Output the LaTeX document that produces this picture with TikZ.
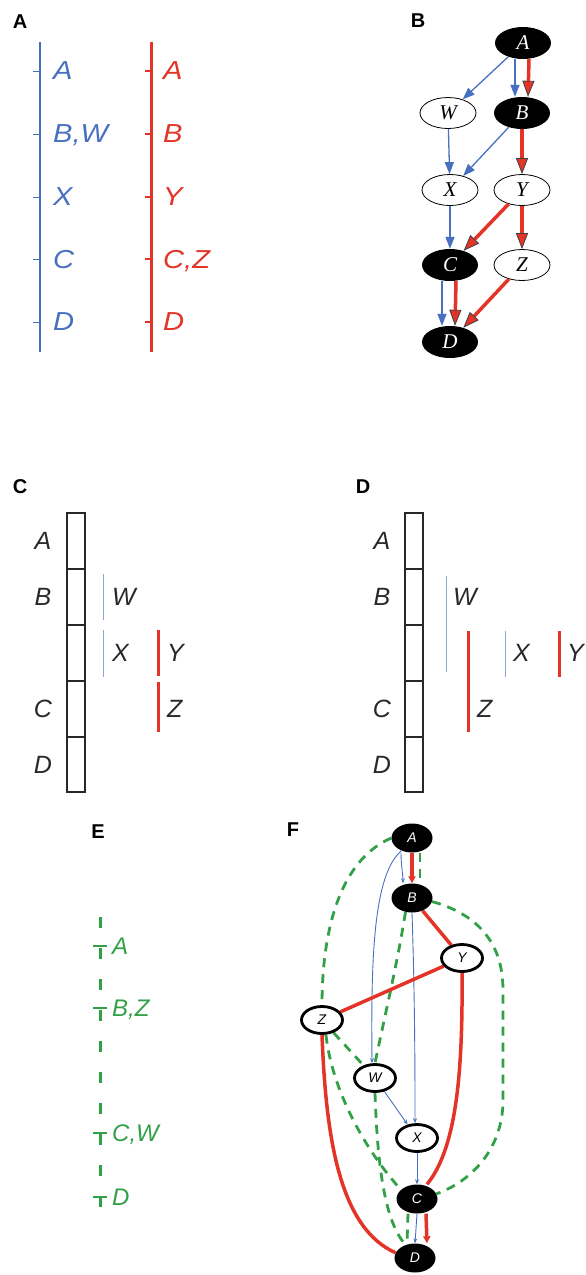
\documentclass[tikz,border=0pt]{standalone}
\usepackage{fontspec}
\setmainfont{Liberation Sans}
\newfontfamily\timesf{Liberation Serif}
\usetikzlibrary{arrows.meta,shapes.geometric,backgrounds}
\definecolor{pblue}{RGB}{72,112,192}
\definecolor{lblue}{RGB}{140,165,215}
\definecolor{pred}{RGB}{228,52,40}
\definecolor{pgreen}{RGB}{50,160,70}
\definecolor{ink}{RGB}{40,40,40}
\tikzset{
  panel/.style={font=\fontsize{20}{20}\selectfont\bfseries, inner sep=0},
  lab/.style={font=\fontsize{25}{25}\selectfont\itshape, anchor=west, inner sep=0, text depth=0pt},
  alab/.style={font=\fontsize{26}{26}\selectfont\addfontfeature{FakeStretch=1.12}\itshape, anchor=west, inner sep=0, text depth=0pt},
  elab/.style={font=\fontsize{24}{24}\selectfont\itshape, anchor=west, inner sep=0, text depth=0pt, text=pgreen},
  bw/.style={ellipse, draw=black, line width=0.8, fill=white, minimum width=56, minimum height=31, inner sep=0, font=\timesf\itshape\fontsize{21}{21}\selectfont},
  bb/.style={ellipse, fill=black, text=white, minimum width=56, minimum height=32, inner sep=0, font=\timesf\itshape\fontsize{21}{21}\selectfont},
  bblue/.style={pblue, line width=1.3, -{Triangle[length=12,width=9]}},
  bred/.style={pred, line width=3.5, -{Triangle[length=16,width=12,line width=0.8,color=black!75,fill=pred]}},
  fw/.style={ellipse, draw=black, line width=2.8, fill=white, minimum width=41, minimum height=27, inner sep=0, font=\fontsize{14}{14}\selectfont\itshape},
  fb/.style={ellipse, fill=black, text=white, minimum width=41, minimum height=29, inner sep=0, font=\fontsize{14}{14}\selectfont\itshape},
  fblue/.style={pblue, line width=0.9, -{Stealth[length=5,width=4]}},
  fred/.style={pred, line width=3.5},
  fgreen/.style={pgreen, line width=2.8, dash pattern=on 9 off 7},
  boxline/.style={ink, line width=1.3}
}
\begin{document}
\begin{tikzpicture}[x=1pt,y=-1pt]
\useasboundingbox (0,0) rectangle (586,1275);
% panel letters
\node[panel] (lA) at (20,22) {A};
\node[panel] (lB) at (418,21) {B};
\node[panel] (lC) at (20,487) {C};
\node[panel] (lD) at (363,487) {D};
\node[panel] (lE) at (98,832) {E};
\node[panel] (lF) at (293,830) {F};

% ---------- Panel A ----------
\draw[pblue, line width=1.3] (40,42) -- (40,352);
\foreach \yy in {71,134,197,259,322} \draw[pblue, line width=1] (33,\yy) -- (40,\yy);
\node[alab, text=pblue] (a1) at (53,71) {A};
\node[alab, text=pblue] (a2) at (53,134) {B,W};
\node[alab, text=pblue] (a3) at (53,197) {X};
\node[alab, text=pblue] (a4) at (53,259) {C};
\node[alab, text=pblue] (a5) at (53,322) {D};
\draw[pred, line width=3] (151,42) -- (151,352);
\foreach \yy in {71,134,197,259,322} \draw[pred, line width=1.2] (145,\yy) -- (151,\yy);
\node[alab, text=pred] (r1) at (163,71) {A};
\node[alab, text=pred] (r2) at (163,134) {B};
\node[alab, text=pred] (r3) at (163,197) {Y};
\node[alab, text=pred] (r4) at (163,259) {C,Z};
\node[alab, text=pred] (r5) at (163,322) {D};

% ---------- Panel B ----------
\node[bb] (bA) at (523,43) {A};
\node[bw] (bW) at (448,113) {W};
\node[bb] (bB) at (522,113) {B};
\node[bw] (bX) at (450,190) {X};
\node[bw] (bY) at (522,190) {Y};
\node[bb] (bC) at (450,265) {C};
\node[bw] (bZ) at (522,265) {Z};
\node[bb] (bD) at (450,342) {D};
\draw[bblue] (bA) -- (bW);
\draw[bblue] ([xshift=-8]bA.south) -- ([xshift=-7]bB.north);
\draw[bred] ([xshift=6]bA.south) -- ([xshift=6]bB.north);
\draw[bblue] (bW) -- (bX);
\draw[bblue] (bB) -- (bX);
\draw[bred] (bB) -- (bY);
\draw[bblue] (bX) -- (bC);
\draw[bred] (bY) -- (bC);
\draw[bred] (bY) -- (bZ);
\draw[bblue] ([xshift=-8]bC.south) -- ([xshift=-8]bD.north);
\draw[bred] ([xshift=6]bC.south) -- ([xshift=5]bD.north);
\draw[bred] (bZ) -- (bD);

% ---------- Panel C ----------
\draw[boxline] (67,513) rectangle (85,792);
\foreach \yy in {569,625,681,737} \draw[boxline] (67,\yy) -- (85,\yy);
\node[lab, anchor=center, text=ink] (c1) at (43,541) {A};
\node[lab, anchor=center, text=ink] (c2) at (43,597) {B};
\node[lab, anchor=center, text=ink] (c3) at (43,709) {C};
\node[lab, anchor=center, text=ink] (c4) at (43,765) {D};
\draw[lblue, line width=1] (103,574) -- (103,620);
\node[lab, text=ink] (cW) at (112,597) {W};
\draw[lblue, line width=1] (103,630) -- (103,677);
\node[lab, text=ink] (cX) at (112,653) {X};
\draw[pred, line width=3] (158,630) -- (158,676);
\node[lab, text=ink] (cY) at (167,653) {Y};
\draw[pred, line width=3] (158,682) -- (158,732);
\node[lab, text=ink] (cZ) at (167,709) {Z};

% ---------- Panel D ----------
\draw[boxline] (405,513) rectangle (423,792);
\foreach \yy in {569,625,681,737} \draw[boxline] (405,\yy) -- (423,\yy);
\node[lab, anchor=center, text=ink] (d1) at (382,541) {A};
\node[lab, anchor=center, text=ink] (d2) at (382,597) {B};
\node[lab, anchor=center, text=ink] (d3) at (382,709) {C};
\node[lab, anchor=center, text=ink] (d4) at (382,765) {D};
\draw[lblue, line width=1] (446,576) -- (446,672);
\node[lab, text=ink] (dW) at (453,597) {W};
\draw[pred, line width=3] (468,631) -- (468,732);
\node[lab, text=ink] (dZ) at (477,709) {Z};
\draw[lblue, line width=1] (505,631) -- (505,677);
\node[lab, text=ink] (dX) at (513,653) {X};
\draw[pred, line width=3] (559,631) -- (559,677);
\node[lab, text=ink] (dY) at (567,653) {Y};

% ---------- Panel E ----------
\draw[pgreen, line width=3, dash pattern=on 11 off 20] (100,917) -- (100,1227);
\foreach \yy in {946,1008,1133,1197} \draw[pgreen, line width=2.5] (93,\yy) -- (107,\yy);
\node[elab] (e1) at (112,946) {A};
\node[elab] (e2) at (112,1008) {B,Z};
\node[elab] (e3) at (112,1133) {C,W};
\node[elab] (e4) at (112,1197) {D};

% ---------- Panel F ----------
\node[fb] (fA) at (412,838) {A};
\node[fb] (fB) at (412,898) {B};
\node[fw] (fY) at (462,958) {Y};
\node[fw] (fZ) at (322,1020) {Z};
\node[fw] (fW) at (375,1078) {W};
\node[fw] (fX) at (417,1138) {X};
\node[fb] (fC) at (417,1199) {C};
\node[fb] (fD) at (415,1258) {D};
\begin{scope}[on background layer]
% green dashed
\draw[fgreen] (fA.west) .. controls (340,860) and (322,930) .. (fZ.north);
\draw[fgreen] ([xshift=8]fA.south) -- ([xshift=8]fB.north);
\draw[fgreen] (fB.-115) .. controls (398,960) and (385,1015) .. (fW.north);
\draw[fgreen] (fB.-10) .. controls (480,915) and (503,945) .. (503,990) -- (503,1100) .. controls (503,1150) and (470,1182) .. (fC.15);
\draw[fgreen] (fZ) -- (fW);
\draw[fgreen] (fZ.-75) .. controls (332,1090) and (365,1150) .. (fC.150);
\draw[fgreen] (fW.south) .. controls (377,1150) and (382,1220) .. (fD.125);
\draw[fgreen] ([xshift=-9]fC.south) -- ([xshift=-8]fD.north);
% blue
\draw[fblue] (fA.230) .. controls (373,875) and (371,960) .. ([xshift=-3]fW.north);
\draw[fblue] ([xshift=-11]fA.south) .. controls (401,865) and (403,875) .. ([xshift=-9]fB.north);
\draw[fblue] (fB.south) .. controls (415,1000) and (415,1080) .. ([xshift=-2]fX.north);
\draw[fblue] (fW) -- (fX);
\draw[fblue] (fX) -- (fC);
\draw[fblue] (fC.south) -- (fD.north);
% red
\draw[fred, -{Triangle[length=7,width=7]}] (fA) -- (fB);
\draw[fred] (fB) -- (fY);
\draw[fred] (fY) -- (fZ);
\draw[fred] (fY.south) .. controls (463,1080) and (455,1150) .. ([xshift=10]fC.north);
\draw[fred] (fZ.south) .. controls (326,1140) and (340,1228) .. (fD.165);
\draw[fred, -{Triangle[length=7,width=7]}] ([xshift=9]fC.south) -- ([xshift=12]fD.north);
\end{scope}
\end{tikzpicture}
\end{document}
